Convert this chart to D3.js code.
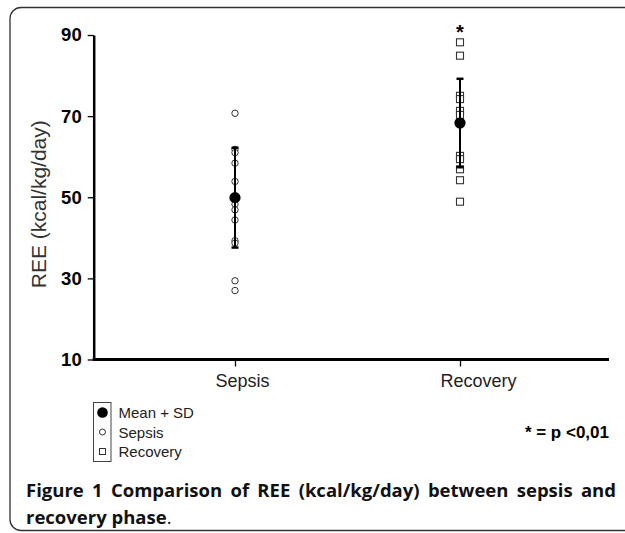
<!DOCTYPE html>
<html>
<head>
<meta charset="utf-8">
<script src="https://cdn.jsdelivr.net/npm/d3@7"></script>
<style>
  html, body { margin: 0; padding: 0; background: #fff; }
  svg { display: block; }
</style>
</head>
<body>
<svg id="canvas" width="625" height="533"></svg>
<script>
// datos
const categorias = ["Sepsis", "Recovery"];
const valoresSepsis = [70.7, 61.8, 61.0, 58.4, 53.9, 48.3, 46.9, 44.4, 39.3, 38.7, 29.4, 27.0];
const valoresRecovery = [88.2, 84.9, 75.0, 74.2, 71.3, 70.3, 60.2, 59.4, 56.9, 54.2, 48.9];
const medias = [49.9, 68.3];
const desviaciones = [12.3, 10.9];
const ticksY = [10, 30, 50, 70, 90];
const asterisco = [null, 91.2];
const leyenda = ["Mean + SD", "Sepsis", "Recovery"];
const pie = ["Figure 1 Comparison of REE (kcal/kg/day) between sepsis and", "recovery phase"];

const svg = d3.select("#canvas");
const fuente = "'Liberation Sans', Arial, sans-serif";

// marco redondeado
svg.append("rect")
    .attr("x", 10).attr("y", 7.5)
    .attr("width", 640).attr("height", 523)
    .attr("rx", 11)
    .attr("fill", "none")
    .attr("stroke", "#333")
    .attr("stroke-width", 1.3);

const izq = 93.7, der = 609, arriba = 35, abajo = 359.5;

const y = d3.scaleLinear().domain([10, 90]).range([abajo, arriba]);
const x = d3.scalePoint().domain(categorias).range([235, 460]);

// eje Y
const ejeY = svg.append("g")
    .attr("transform", `translate(${izq},0)`)
    .call(d3.axisLeft(y).tickValues(ticksY).tickSize(6).tickSizeOuter(0).tickPadding(6));
ejeY.select(".domain").attr("stroke", "#000").attr("stroke-width", 2.5);
ejeY.selectAll(".tick line").attr("stroke", "#000").attr("stroke-width", 1.3);
ejeY.selectAll(".tick text")
    .attr("fill", "#000")
    .style("font-family", fuente)
    .style("font-size", "18.5px")
    .style("font-weight", "bold");

// eje X
svg.append("line")
    .attr("x1", izq - 1).attr("x2", der)
    .attr("y1", abajo).attr("y2", abajo)
    .attr("stroke", "#000").attr("stroke-width", 3);
const ejeX = svg.append("g")
    .attr("transform", `translate(0,${abajo})`)
    .call(d3.axisBottom(x).tickSize(7).tickSizeOuter(0).tickPadding(8));
ejeX.select(".domain").remove();
ejeX.selectAll(".tick line").attr("stroke", "#000").attr("stroke-width", 1.3);
ejeX.selectAll(".tick text")
    .attr("fill", "#222")
    .attr("dx", (d, i) => i === 0 ? 7 : 18)
    .style("font-family", fuente)
    .style("font-size", "18px");

// título eje Y
svg.append("text")
    .attr("transform", `translate(46,${(arriba + abajo) / 2 + 7}) rotate(-90)`)
    .attr("text-anchor", "middle")
    .attr("fill", "#333")
    .style("font-family", fuente)
    .style("font-size", "21px")
    .text("REE (kcal/kg/day)");

// puntos individuales
svg.append("g").selectAll("circle")
    .data(valoresSepsis)
    .enter().append("circle")
    .attr("cx", x("Sepsis"))
    .attr("cy", d => y(d))
    .attr("r", 3.2)
    .attr("fill", "#fff")
    .attr("stroke", "#333")
    .attr("stroke-width", 1);

const lado = 7;
svg.append("g").selectAll("rect")
    .data(valoresRecovery)
    .enter().append("rect")
    .attr("x", x("Recovery") - lado / 2)
    .attr("y", d => y(d) - lado / 2)
    .attr("width", lado).attr("height", lado)
    .attr("fill", "#fff")
    .attr("stroke", "#333")
    .attr("stroke-width", 1.1);

// barras de error y medias
categorias.forEach((c, i) => {
    const cx = x(c);
    const g = svg.append("g");
    g.append("line")
        .attr("x1", cx).attr("x2", cx)
        .attr("y1", y(medias[i] + desviaciones[i]))
        .attr("y2", y(medias[i] - desviaciones[i]))
        .attr("stroke", "#000").attr("stroke-width", 2);
    [medias[i] + desviaciones[i], medias[i] - desviaciones[i]].forEach(v => {
        g.append("line")
            .attr("x1", cx - 3.5).attr("x2", cx + 3.5)
            .attr("y1", y(v)).attr("y2", y(v))
            .attr("stroke", "#000").attr("stroke-width", 2.5);
    });
    g.append("circle")
        .attr("cx", cx).attr("cy", y(medias[i]))
        .attr("r", 5.6)
        .attr("fill", "#000");
    if (asterisco[i] !== null) {
        g.append("text")
            .attr("x", cx).attr("y", y(asterisco[i]) + 9)
            .attr("text-anchor", "middle")
            .style("font-family", fuente)
            .style("font-size", "20px")
            .style("font-weight", "bold")
            .text("*");
    }
});

// leyenda
svg.append("rect")
    .attr("x", 93.5).attr("y", 402.5)
    .attr("width", 17.5).attr("height", 59)
    .attr("fill", "none")
    .attr("stroke", "#444")
    .attr("stroke-width", 1);
const filasY = [412.5, 432, 451];
svg.append("circle").attr("cx", 102.5).attr("cy", filasY[0]).attr("r", 5.3).attr("fill", "#000");
svg.append("circle").attr("cx", 102.5).attr("cy", filasY[1]).attr("r", 3)
    .attr("fill", "#fff").attr("stroke", "#333").attr("stroke-width", 1);
svg.append("rect").attr("x", 99.5).attr("y", filasY[2] - 2.5).attr("width", 6).attr("height", 6)
    .attr("fill", "#fff").attr("stroke", "#333").attr("stroke-width", 1);
svg.append("g").selectAll("text")
    .data(leyenda)
    .enter().append("text")
    .attr("x", 118.5)
    .attr("y", (d, i) => filasY[i] + 5.5)
    .attr("fill", "#222")
    .style("font-family", fuente)
    .style("font-size", "15px")
    .text(d => d);

// nota de significancia
svg.append("text")
    .attr("x", 609).attr("y", 438)
    .attr("text-anchor", "end")
    .attr("fill", "#000")
    .style("font-family", fuente)
    .style("font-size", "17px")
    .style("font-weight", "bold")
    .text("* = p <0,01");

// pie de figura, primera línea justificada
const fuentePie = "'Open Sans', 'Noto Sans', sans-serif";
const linea1 = svg.append("text")
    .attr("x", 26).attr("y", 497)
    .attr("fill", "#111")
    .style("font-family", fuentePie)
    .style("font-size", "18.5px")
    .style("font-weight", "bold")
    .text(pie[0]);
const natural = linea1.node().getComputedTextLength();
const espacios = pie[0].split(" ").length - 1;
linea1.style("word-spacing", Math.max(0, (616 - 26 - natural) / espacios) + "px");

const linea2 = svg.append("text")
    .attr("x", 26).attr("y", 524)
    .attr("fill", "#111")
    .style("font-family", fuentePie)
    .style("font-size", "18.5px");
linea2.append("tspan").style("font-weight", "bold").text(pie[1]);
linea2.append("tspan").style("font-weight", "normal").text(".");
</script>
</body>
</html>
